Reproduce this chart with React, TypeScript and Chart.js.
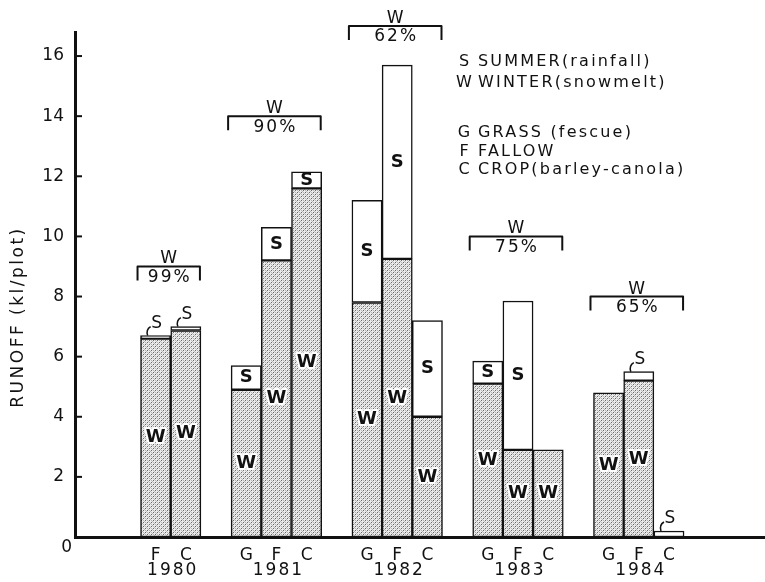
import React, { useEffect, useRef } from 'react';
import { Chart, registerables } from 'chart.js';

Chart.register(...registerables);

// ---- data ----
const years = ['1980', '1981', '1982', '1983', '1984'];
const treatments = ['G', 'F', 'C'];
// flattened per year: G, F, C
const winterRunoff: (number | null)[] = [null, 6.6, 6.87, 4.9, 9.2, 11.6, 7.8, 9.25, 4.0, 5.1, 2.9, 2.9, 4.8, 5.2, null];
const summerRunoff: (number | null)[] = [null, 0.1, 0.13, 0.8, 1.1, 0.55, 3.4, 6.45, 3.2, 0.75, 4.95, null, null, 0.3, 0.2];
const winterShare = ['99%', '90%', '62%', '75%', '65%'];
const bracketLevel = [9, 14, 17, 10, 8];
const yTicks = [0, 2, 4, 6, 8, 10, 12, 14, 16];
const legendKeys = ['S', 'W', 'G', 'F', 'C'];
const legendTexts = ['SUMMER(rainfall)', 'WINTER(snowmelt)', 'GRASS (fescue)', 'FALLOW', 'CROP(barley-canola)'];
const yTitle = 'RUNOFF (kl/plot)';

const FONT = '"DejaVu Sans", "Liberation Sans", sans-serif';
const INK = '#111';

function makeStipple(): CanvasPattern | string {
  const c = document.createElement('canvas');
  c.width = 4;
  c.height = 4;
  const g = c.getContext('2d');
  if (!g) return '#c4c4c4';
  const L = '#ececec', M = '#b4b4b4', D = '#6a6a6a';
  const grid = [
    [L, D, L, M],
    [M, L, L, L],
    [L, M, L, D],
    [L, L, M, L],
  ];
  grid.forEach((row, r) => row.forEach((col, cc) => { g.fillStyle = col; g.fillRect(cc, r, 1, 1); }));
  const p = g.createPattern(c, 'repeat');
  return p || '#c4c4c4';
}

function setSpacing(ctx: any, px: number) {
  if ('letterSpacing' in ctx) ctx.letterSpacing = px + 'px';
}

export default function App() {
  const ref = useRef<HTMLCanvasElement>(null);

  useEffect(() => {
    const canvas = ref.current;
    if (!canvas) return;

    const positions: number[] = [];
    const yearPos: number[][] = years.map(() => []);
    const winterPts: { x: number; y: number }[] = [];
    const summerPts: { x: number; y: number }[] = [];
    years.forEach((_, k) => {
      treatments.forEach((_t, j) => {
        const i = k * 3 + j;
        const w = winterRunoff[i];
        const s = summerRunoff[i];
        if (w == null && s == null) return;
        const x = 4 * k + j;
        positions.push(x);
        yearPos[k].push(x);
        if (w != null && w > 0) winterPts.push({ x, y: w });
        if (s != null && s > 0) summerPts.push({ x, y: s });
      });
    });
    const letterFor = (v: number) => treatments[((v % 4) + 4) % 4] || '';

    const annot = {
      id: 'annot',
      afterDraw(chart: any) {
        const { ctx, chartArea } = chart;
        const xs = chart.scales.x;
        const ys = chart.scales.y;
        ctx.save();
        ctx.fillStyle = INK;
        ctx.strokeStyle = INK;

        // inward y tick marks
        ctx.lineWidth = 2;
        yTicks.forEach((v) => {
          if (v === 0) return;
          const py = ys.getPixelForValue(v);
          ctx.beginPath();
          ctx.moveTo(chartArea.left, py);
          ctx.lineTo(chartArea.left + 7, py);
          ctx.stroke();
        });

        // zero label
        ctx.font = `17px ${FONT}`;
        ctx.textAlign = 'right';
        ctx.textBaseline = 'middle';
        ctx.fillText('0', chartArea.left - 3, chartArea.bottom + 11);

        // year labels
        ctx.textAlign = 'center';
        setSpacing(ctx, 2);
        years.forEach((yr, k) => {
          const ps = yearPos[k];
          if (!ps.length) return;
          const mean = ps.reduce((a, b) => a + b, 0) / ps.length;
          ctx.fillText(yr, xs.getPixelForValue(mean) + 2, chartArea.bottom + 34);
        });
        setSpacing(ctx, 0);

        // letters inside bars
        const wMeta = chart.getDatasetMeta(0);
        const sMeta = chart.getDatasetMeta(1);
        const barFont = `bold 18px ${FONT}`;
        ctx.font = barFont;
        ctx.textAlign = 'center';
        ctx.textBaseline = 'middle';
        wMeta.data.forEach((el: any) => {
          const cy = (el.y + el.base) / 2;
          ctx.lineWidth = 4;
          ctx.lineJoin = 'round';
          ctx.strokeStyle = '#fff';
          ctx.strokeText('W', el.x, cy);
          ctx.fillStyle = INK;
          ctx.fillText('W', el.x, cy);
        });
        ctx.strokeStyle = INK;
        sMeta.data.forEach((el: any) => {
          const h = el.base - el.y;
          if (h >= 13) {
            ctx.fillText('S', el.x, (el.y + el.base) / 2);
          } else {
            ctx.lineWidth = 1.5;
            ctx.beginPath();
            ctx.moveTo(el.x - 8, el.y);
            ctx.quadraticCurveTo(el.x - 10, el.y - 6, el.x - 5, el.y - 9);
            ctx.stroke();
            ctx.font = `17px ${FONT}`;
            ctx.fillText('S', el.x + 1, el.y - 12);
            ctx.font = barFont;
          }
        });

        // brackets for winter share
        years.forEach((_, k) => {
          const ps = yearPos[k];
          if (!ps.length) return;
          const left = xs.getPixelForValue(Math.min(...ps) - 0.5) - 3;
          const right = xs.getPixelForValue(Math.max(...ps) + 0.5) - 1;
          const ly = ys.getPixelForValue(bracketLevel[k]);
          ctx.lineWidth = 2;
          ctx.beginPath();
          ctx.moveTo(left, ly + 14);
          ctx.lineTo(left, ly);
          ctx.lineTo(right, ly);
          ctx.lineTo(right, ly + 14);
          ctx.stroke();
          const cx = (left + right) / 2;
          ctx.font = `17px ${FONT}`;
          ctx.textAlign = 'center';
          ctx.textBaseline = 'alphabetic';
          ctx.fillText('W', cx, ly - 3);
          ctx.textBaseline = 'middle';
          setSpacing(ctx, 2);
          ctx.fillText(winterShare[k], cx + 1, ly + 11);
          setSpacing(ctx, 0);
        });

        // legend text
        ctx.font = `16px ${FONT}`;
        ctx.textBaseline = 'middle';
        const legendY = [62, 83, 133, 152, 170];
        legendKeys.forEach((key, i) => {
          ctx.textAlign = 'center';
          setSpacing(ctx, 0);
          ctx.fillText(key, 464, legendY[i]);
          ctx.textAlign = 'left';
          setSpacing(ctx, 2.2);
          ctx.fillText(legendTexts[i], 478, legendY[i]);
        });
        setSpacing(ctx, 0);

        // y axis title
        ctx.save();
        ctx.translate(19, 317);
        ctx.rotate(-Math.PI / 2);
        ctx.font = `17px ${FONT}`;
        ctx.textAlign = 'center';
        ctx.textBaseline = 'middle';
        setSpacing(ctx, 2.5);
        ctx.fillText(yTitle, 0, 0);
        ctx.restore();

        ctx.restore();
      },
    };

    const stipple = makeStipple();

    const chart = new Chart(canvas, {
      type: 'bar',
      data: {
        datasets: [
          {
            label: 'Winter (snowmelt)',
            data: winterPts as any,
            backgroundColor: stipple as any,
            borderColor: INK,
            borderWidth: 1.5,
            borderSkipped: false,
            barPercentage: 1,
            categoryPercentage: 1,
          },
          {
            label: 'Summer (rainfall)',
            data: summerPts as any,
            backgroundColor: '#ffffff',
            borderColor: INK,
            borderWidth: 1.5,
            borderSkipped: false,
            barPercentage: 1,
            categoryPercentage: 1,
          },
        ],
      },
      options: {
        responsive: false,
        animation: false,
        layout: { padding: { top: 32, right: 0, bottom: 0, left: 0 } },
        plugins: {
          legend: { display: false },
          tooltip: { enabled: false },
        },
        scales: {
          x: {
            type: 'linear',
            stacked: true,
            min: -1.67,
            max: 21.18,
            offset: false,
            afterFit: (s: any) => { s.height = 45; },
            afterBuildTicks: (s: any) => { s.ticks = positions.map((v) => ({ value: v })); },
            grid: { display: false },
            border: { display: true, color: INK, width: 3 },
            ticks: {
              autoSkip: false,
              maxRotation: 0,
              padding: 0,
              color: INK,
              font: { family: FONT, size: 17 },
              callback: (v: any) => letterFor(Number(v)),
            },
          },
          y: {
            type: 'linear',
            stacked: true,
            min: 0,
            max: 16.8,
            afterFit: (s: any) => { s.width = 75; },
            afterBuildTicks: (s: any) => { s.ticks = yTicks.map((v) => ({ value: v })); },
            grid: { display: false },
            border: { display: true, color: INK, width: 3 },
            ticks: {
              padding: 3,
              color: INK,
              font: { family: FONT, size: 17 },
              callback: (v: any) => (Number(v) === 0 ? '' : String(v)),
            },
          },
        },
      },
      plugins: [annot],
    });

    return () => chart.destroy();
  }, []);

  return (
    <div style={{ position: 'absolute', left: 0, top: 0, width: 765, height: 582, background: '#fff' }}>
      <canvas ref={ref} width={765} height={582} style={{ display: 'block', width: 765, height: 582 }} />
    </div>
  );
}
